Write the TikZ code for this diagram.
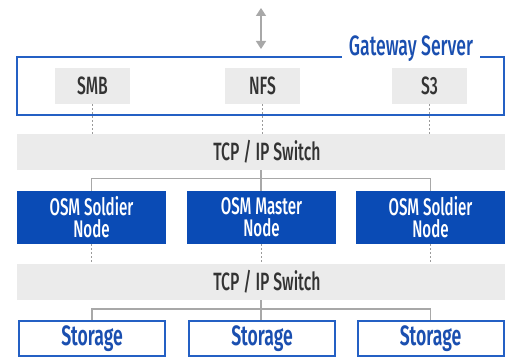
\documentclass[tikz,border=0pt]{standalone}
\usepackage{fontspec}
\setmainfont{Fira Sans}[FakeStretch=0.63, UprightFont=* Medium, BoldFont=* SemiBold]
\usetikzlibrary{arrows.meta}
\definecolor{osmblue}{HTML}{0A4BB5}
\definecolor{bordblue}{HTML}{2460C4}
\definecolor{txtblue}{HTML}{1A4FB0}
\definecolor{lightg}{HTML}{EBEBEB}
\definecolor{darkg}{HTML}{333333}
\definecolor{lineg}{HTML}{A8A8A8}
\definecolor{dotg}{HTML}{9A9A9A}
\begin{document}
\begin{tikzpicture}[x=1pt,y=-1pt,
  gbox/.style={fill=lightg,text=darkg,font=\fontsize{25}{27}\selectfont,inner sep=0pt,minimum width=75pt,minimum height=36pt},
  switchbox/.style={fill=lightg,text=darkg,font=\fontsize{25}{27}\selectfont,inner sep=0pt,minimum width=488pt,minimum height=36pt},
  osmbox/.style={fill=osmblue,text=white,font=\fontsize{24}{22}\selectfont,align=center,inner sep=0pt,minimum width=149pt,minimum height=53pt},
  storebox/.style={draw=bordblue,line width=2pt,fill=white,text=txtblue,font=\fontsize{28}{30}\selectfont\bfseries,inner sep=0pt,minimum width=146pt,minimum height=35pt},
  gwframe/.style={draw=bordblue,line width=2pt,inner sep=0pt,minimum width=487pt,minimum height=58pt},
  gwtitle/.style={fill=white,text=txtblue,font=\fontsize{28}{30}\selectfont,inner xsep=7pt,inner ysep=2pt},
  dots/.style={draw=dotg,line width=1pt,dash pattern=on 2pt off 2pt},
  tree/.style={draw=lineg,line width=1.3pt},
  arr/.style={draw=lineg,line width=1.5pt,{Triangle[width=10pt,length=8pt]}-{Triangle[width=10pt,length=8pt]}}
]
\useasboundingbox (0,0) rectangle (511,358);
% gateway
\node[gwframe] (gw) at (260.5,86.3) {};
\node[gwtitle,anchor=base] (gwt) at (411,56) {Gateway Server};
\coordinate (atop) at (261,8);
\coordinate (abot) at (261,49);
\draw[arr] (atop) -- (abot);
\node[gbox] (smb) at (92.5,86) {SMB};
\node[gbox] (nfs) at (262.5,86) {NFS};
\node[gbox] (s3) at (429.5,86) {S3};
% switch 1
\node[switchbox] (sw1) at (261,152) {\hspace*{12pt}TCP / IP Switch};
\draw[dots] (smb.south) -- (smb.south |- sw1.north);
\draw[dots] (nfs.south) -- (nfs.south |- sw1.north);
\draw[dots] (s3.south) -- (s3.south |- sw1.north);
% OSM nodes
\node[osmbox] (osm1) at (91.5,217.5) {OSM Soldier\\Node};
\node[osmbox] (osm2) at (261.5,217.5) {OSM Master\\Node};
\node[osmbox] (osm3) at (430.5,217.5) {OSM Soldier\\Node};
\draw[tree] (osm1.north) -- ++(0,-12) -| (osm3.north);
\draw[tree] (sw1.south) -- (sw1.south |- osm2.north);
% switch 2
\node[switchbox] (sw2) at (261,282) {\hspace*{12pt}TCP / IP Switch};
\draw[dots] (osm1.south) -- (osm1.south |- sw2.north);
\draw[dots] (osm2.south) -- (osm2.south |- sw2.north);
\draw[dots] (osm3.south) -- (osm3.south |- sw2.north);
% storage
\node[storebox] (st1) at (92,338.5) {Storage};
\node[storebox] (st2) at (262,338.5) {Storage};
\node[storebox] (st3) at (430.5,338.5) {Storage};
\draw[tree] (st1.north) -- ++(0,-11) -| (st3.north);
\draw[tree] (sw2.south) -- (sw2.south |- st2.north);
\end{tikzpicture}
\end{document}
